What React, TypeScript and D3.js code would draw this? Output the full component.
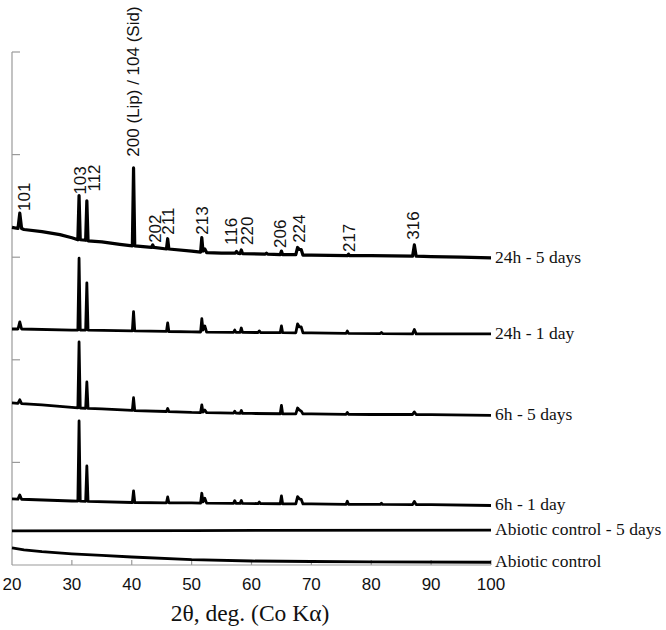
import * as d3 from 'd3';

// XRD patterns, 2θ (deg) vs stacked intensity (a.u., offsets included)
const s24h5d: [number, number][] = [
  [20, 329], [21.0, 328], [21.3, 343], [21.6, 328], [22, 327], [25, 325], [28, 322], [30, 319],
  [31.0, 317], [31.2, 360], [31.4, 317], [32.3, 316.5], [32.5, 355], [32.7, 316], [35, 315], [38, 312.5],
  [40.1, 311], [40.3, 387], [40.5, 311], [43.3, 309.5], [43.5, 312], [43.7, 309.5], [45.8, 308], [46.0, 318],
  [46.2, 308], [50, 306], [51.5, 305], [51.7, 319], [51.9, 306], [52.2, 308], [52.5, 304.5], [55, 304],
  [57.3, 304], [57.5, 305.5], [57.7, 304], [58.1, 303.5], [58.3, 307], [58.5, 303.5], [62.3, 303], [62.5, 304],
  [62.7, 303], [64.8, 302.5], [65.0, 306], [65.2, 302.5], [67.4, 302.5], [67.7, 309.5], [68.0, 307.5], [68.3, 307.5],
  [68.6, 302], [70, 302], [76, 301.5], [76.2, 303], [76.4, 301.5], [80, 301.5], [86.9, 301], [87.2, 312],
  [87.5, 301], [90, 300.5], [95, 300], [100, 299.3],
];
const s24h1d: [number, number][] = [
  [20, 230], [21.0, 230], [21.3, 237], [21.6, 230], [30, 229], [31.0, 229], [31.2, 299], [31.4, 229],
  [32.3, 229], [32.5, 275], [32.7, 229], [40.1, 228.2], [40.3, 247], [40.5, 228.2], [45.8, 227.7], [46.0, 236],
  [46.2, 227.6], [50, 227.2], [51.5, 227.1], [51.7, 240], [51.9, 229], [52.2, 233], [52.5, 227], [57.0, 226.8],
  [57.2, 229], [57.4, 226.8], [58.1, 226.8], [58.3, 231], [58.5, 226.7], [61.1, 226.6], [61.3, 228.2], [61.5, 226.6],
  [64.8, 226.4], [65.0, 233], [65.2, 226.4], [67.4, 226.3], [67.7, 235], [68.0, 232], [68.3, 232], [68.6, 226.2],
  [70, 226.2], [75.8, 225.8], [76, 228], [76.2, 225.8], [81.5, 225.6], [81.7, 226.7], [81.9, 225.6], [86.9, 225.3],
  [87.2, 229.5], [87.5, 225.3], [90, 225.2], [100, 225.2],
];
const s6h5d: [number, number][] = [
  [20, 158], [21.0, 157.5], [21.3, 161], [21.6, 157.3], [25, 156], [30, 153.6], [31.0, 153.2], [31.2, 217.4],
  [31.4, 153], [32.3, 152.8], [32.5, 178.4], [32.7, 152.7], [35, 152.1], [40.1, 150.7], [40.3, 163], [40.5, 150.5],
  [45.8, 149.6], [46.0, 152.6], [46.2, 149.5], [50, 148.7], [51.5, 148.6], [51.7, 156], [51.9, 149], [52.2, 151],
  [52.5, 148.5], [57.0, 148], [57.2, 150], [57.4, 148], [58.1, 147.9], [58.3, 150.6], [58.5, 147.8], [60, 147.7],
  [64.8, 147.4], [65.0, 155.5], [65.2, 147.4], [67.4, 147.3], [67.7, 153], [68.0, 151], [68.3, 150], [68.6, 147.2],
  [70, 147.2], [75.8, 146.9], [76, 148.7], [76.2, 146.9], [80, 146.7], [86.9, 146.7], [87.2, 149.2], [87.5, 146.6],
  [90, 146.5], [100, 145.8],
];
const s6h1d: [number, number][] = [
  [20, 64.4], [21.0, 64.2], [21.3, 68.3], [21.6, 64.1], [30, 62.4], [31.0, 62.3], [31.2, 140.4], [31.4, 62.2],
  [32.3, 62.1], [32.5, 96.5], [32.7, 62], [40.1, 60.9], [40.3, 72.2], [40.5, 60.9], [45.8, 60.6], [46.0, 66.3],
  [46.2, 60.6], [50, 60.5], [51.5, 60.4], [51.7, 69.9], [51.9, 61.5], [52.2, 65], [52.5, 60.3], [57.0, 60.1],
  [57.2, 62.7], [57.4, 60.1], [58.1, 60.05], [58.3, 62.9], [58.5, 60], [61.1, 59.9], [61.3, 61.4], [61.5, 59.9],
  [64.8, 59.7], [65.0, 67.3], [65.2, 59.7], [67.4, 59.6], [67.7, 66.6], [68.0, 64.5], [68.3, 64], [68.6, 59.5],
  [70, 59.5], [75.8, 59.1], [76, 62.1], [76.2, 59.1], [81.5, 59], [81.7, 60.2], [81.9, 59], [86.9, 58.8],
  [87.2, 62], [87.5, 58.8], [90, 58.8], [100, 58],
];
const sAbio5d: [number, number][] = [[20, 33.2], [50, 33.6], [100, 34]];
const sAbio: [number, number][] = [
  [20, 16.6], [22, 14.8], [25, 13], [30, 10.9], [35, 9.3], [40, 7.8], [50, 5.2], [60, 3.9],
  [70, 3.4], [80, 3.0], [100, 2.7],
];

const seriesData = [s24h5d, s24h1d, s6h5d, s6h1d, sAbio5d, sAbio];
const seriesNames = ['24h - 5 days', '24h - 1 day', '6h - 5 days', '6h - 1 day', 'Abiotic control - 5 days', 'Abiotic control'];

// hkl annotations on the top pattern
const hklLabels = ['101', '103', '112', '200 (Lip) / 104 (Sid)', '202', '211', '213', '116', '220', '206', '224', '217', '316'];
const hklTheta = [22.0, 31.36, 33.7, 40.2, 43.9, 46.05, 51.8, 56.6, 59.3, 64.8, 67.9, 76.3, 87.0];
const hklLevel = [345, 361, 364, 398, 314, 322, 322, 312, 312, 309, 314, 305, 317];

const xTicks = [20, 30, 40, 50, 60, 70, 80, 90, 100];
const yTicks = [100, 200, 300, 400, 500];

export default function App() {
  const width = 666;
  const height = 630;
  const x = d3.scaleLinear().domain([20, 100]).range([12, 491]);
  const y = d3.scaleLinear().domain([0, 500]).range([565, 52]);
  const line = d3
    .line<[number, number]>()
    .x((d) => x(d[0]))
    .y((d) => y(d[1]));

  const axisColor = '#9a9a9a';
  const sans = '"Liberation Sans", Arial, sans-serif';
  const serif = '"Liberation Serif", "Times New Roman", serif';

  return (
    <svg
      width={width}
      height={height}
      style={{ position: 'absolute', left: 0, top: 0, background: '#fff' }}
    >
      {/* axes */}
      <line x1={x(20)} x2={x(20)} y1={y(500)} y2={y(0)} stroke={axisColor} strokeWidth={1.2} />
      <line x1={x(20)} x2={x(100)} y1={y(0)} y2={y(0)} stroke={axisColor} strokeWidth={1.2} />
      {yTicks.map((t) => (
        <line key={'yt' + t} x1={x(20)} x2={x(20) + 8} y1={y(t)} y2={y(t)} stroke={axisColor} strokeWidth={1.2} />
      ))}
      {xTicks.slice(1).map((t) => (
        <line key={'xt' + t} x1={x(t)} x2={x(t)} y1={y(0)} y2={y(0) - 5} stroke={axisColor} strokeWidth={1.2} />
      ))}
      {xTicks.map((t) => (
        <text key={'xl' + t} x={x(t)} y={590} textAnchor="middle" fontFamily={sans} fontSize={17} fill="#111">
          {t}
        </text>
      ))}
      <text x={250} y={621} textAnchor="middle" fontFamily={serif} fontSize={23.5} fill="#111">
        2θ, deg. (Co Kα)
      </text>

      {/* patterns */}
      {seriesData.map((s, i) => (
        <g key={seriesNames[i]}>
          <path d={line(s) || ''} fill="none" stroke="#000" strokeWidth={i === 0 ? 3.2 : 2.8} strokeLinejoin="round" />
          <text
            x={x(100) + 4}
            y={y(s[s.length - 1][1]) + 5}
            fontFamily={serif}
            fontSize={17.5}
            fill="#111"
          >
            {seriesNames[i]}
          </text>
        </g>
      ))}

      {/* hkl labels */}
      {hklLabels.map((lab, i) => (
        <text
          key={lab}
          transform={`translate(${x(hklTheta[i])},${y(hklLevel[i])}) rotate(-90)`}
          dy="0.35em"
          fontFamily={sans}
          fontSize={17}
          fill="#111"
        >
          {lab}
        </text>
      ))}
    </svg>
  );
}
